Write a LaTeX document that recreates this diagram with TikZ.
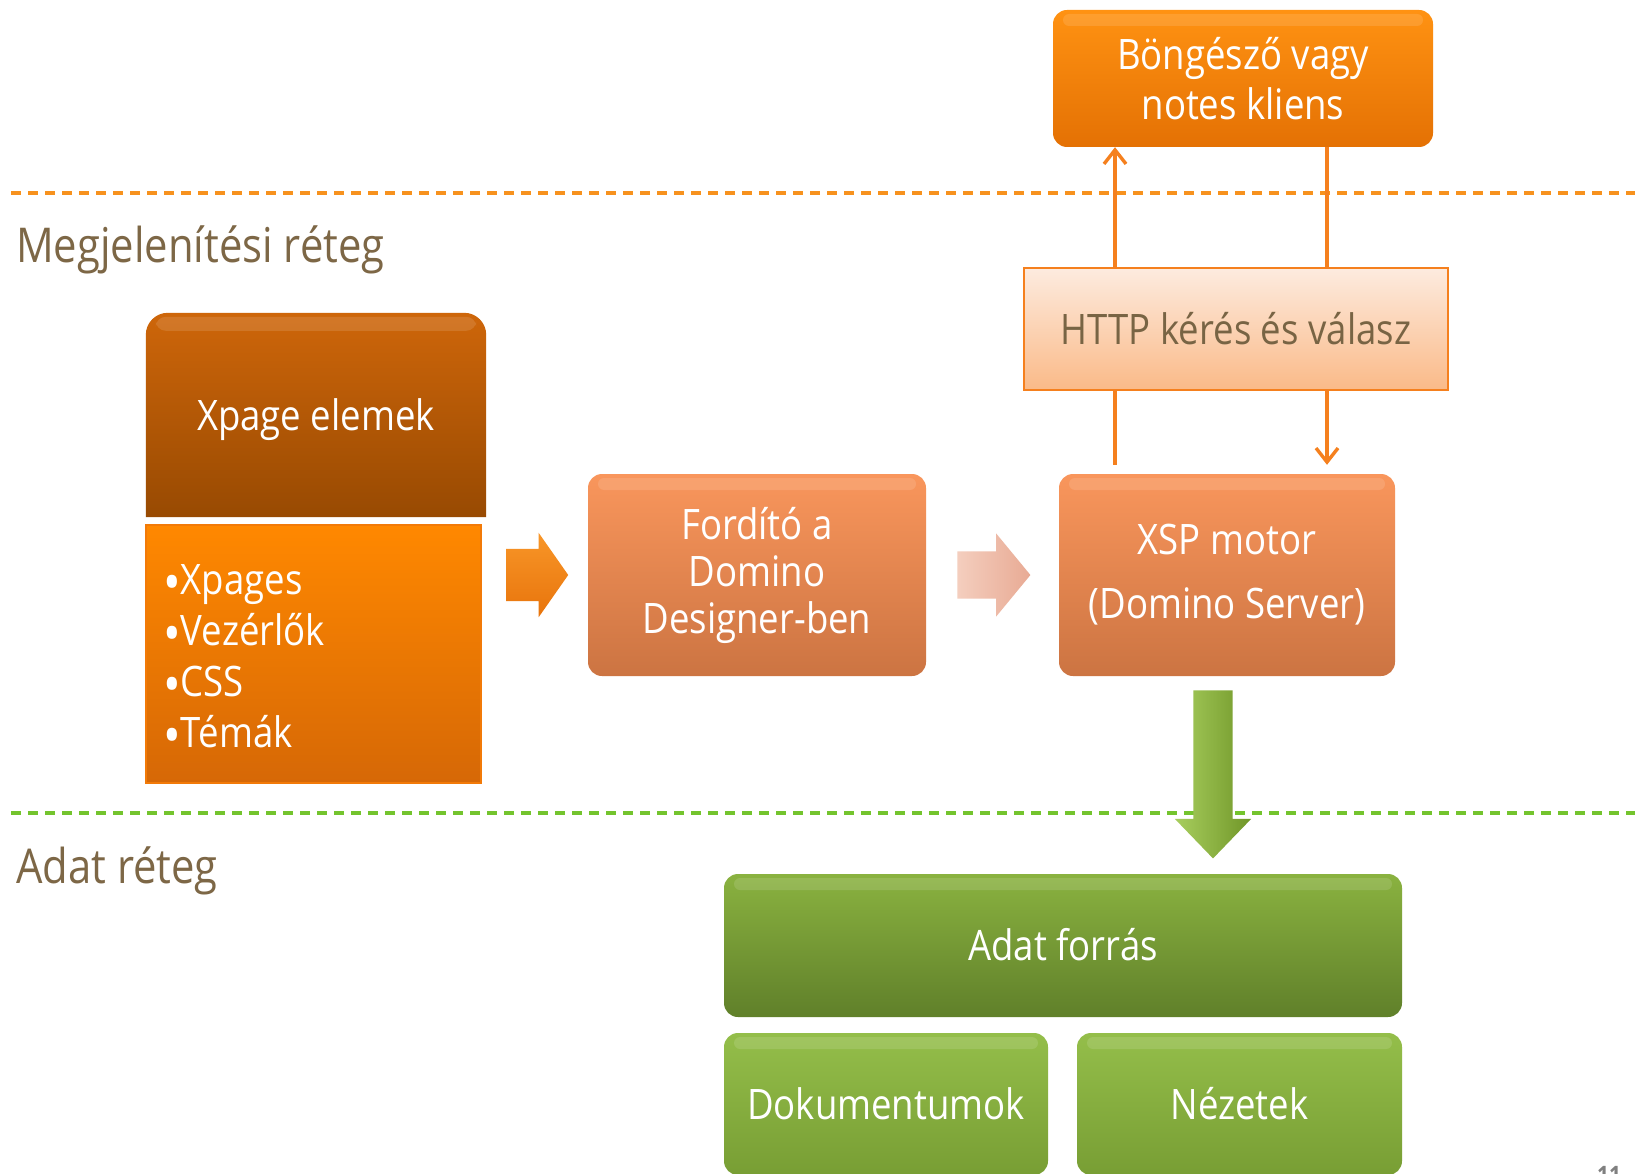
\documentclass[tikz,border=0pt]{standalone}
\usepackage{fontspec}
\setmainfont{Open Sans}[FakeStretch=0.87]
\usetikzlibrary{arrows.meta,shapes.arrows,calc,backgrounds}

\definecolor{labcol}{RGB}{125,103,70}
\definecolor{httptext}{RGB}{120,100,68}
\definecolor{browserTop}{RGB}{255,146,18}
\definecolor{browserBot}{RGB}{228,113,4}
\definecolor{procTop}{RGB}{249,150,92}
\definecolor{procBot}{RGB}{204,116,66}
\definecolor{xheadTop}{RGB}{206,102,10}
\definecolor{xheadBot}{RGB}{152,74,2}
\definecolor{xlistTop}{RGB}{255,136,0}
\definecolor{xlistBot}{RGB}{214,104,6}
\definecolor{xlistLine}{RGB}{242,122,8}
\definecolor{httpTop}{RGB}{253,235,223}
\definecolor{httpBot}{RGB}{250,186,136}
\definecolor{orangeLine}{RGB}{245,128,30}
\definecolor{dashOrange}{RGB}{247,146,30}
\definecolor{greenTop}{RGB}{138,178,64}
\definecolor{greenBot}{RGB}{96,128,42}
\definecolor{green2Top}{RGB}{148,190,74}
\definecolor{green2Bot}{RGB}{120,158,52}
\definecolor{dashGreen}{RGB}{116,196,46}
\definecolor{pageGray}{RGB}{128,128,128}

\newcommand{\bigbul}{\raisebox{-7pt}{\fontsize{54}{51}\selectfont\textbullet}}

\begin{document}
\begin{tikzpicture}[x=1pt,y=-1pt,
  every node/.style={font=\fontsize{42}{50}\selectfont},
  box/.style={rounded corners=14, inner sep=0, align=center, text=white},
  gloss/.style={path picture={\fill[white,opacity=0.12,rounded corners=6]
      ([xshift=10,yshift=-4]path picture bounding box.north west) rectangle
      ([xshift=-10,yshift=-16]path picture bounding box.north east);}},
  browserbox/.style={box, gloss, top color=browserTop, bottom color=browserBot},
  procbox/.style={box, gloss, top color=procTop, bottom color=procBot},
  greenbox/.style={box, gloss, top color=greenTop, bottom color=greenBot},
  greensmall/.style={box, gloss, top color=green2Top, bottom color=green2Bot},
  httpbox/.style={inner sep=0, align=center, text=httptext, draw=orangeLine,
      line width=2.5, top color=httpTop, bottom color=httpBot},
  layerlabel/.style={anchor=base west, inner sep=0, text=labcol,
      font=\fontsize{48}{56}\selectfont},
  layerline/.style={line width=3.2, dash pattern=on 10 off 7},
  conn/.style={draw=orangeLine, line width=3.4},
  barb/.style={-{Straight Barb[length=14,width=22,line width=3.4]}},
  blockarrow/.style={single arrow, inner sep=0, draw=none, anchor=tail}
]
\clip (0,0) rectangle (1635,1174);
\begin{pgfonlayer}{background}
\fill[white] (0,0) rectangle (1635,1174);
\end{pgfonlayer}

% layer separators and labels
\coordinate (dl1) at (11,193);
\coordinate (dr1) at (1640,193);
\coordinate (dl2) at (11,813);
\coordinate (dr2) at (1640,813);
\draw[layerline, draw=dashOrange] (dl1) -- (dr1);
\node[layerlabel] (lab1) at (16,262) {Megjelenítési réteg};
\node[layerlabel] (lab2) at (16,883) {Adat réteg};

% presentation layer boxes
\node[browserbox, minimum width=380, minimum height=137] (browser) at (1243,78.5)
  {Böngésző vagy\\notes kliens};
\node[httpbox, minimum width=424, minimum height=122, text height=30, text depth=0]
  (http) at (1236,329) {HTTP kérés és válasz};
\node[procbox, minimum width=338, minimum height=202, font=\fontsize{42}{47}\selectfont]
  (fordito) at (757,575) {Fordító a\\Domino\\Designer-ben};
\node[procbox, minimum width=336, minimum height=202, font=\fontsize{42}{64}\selectfont]
  (xsp) at (1227,575) {XSP motor\\(Domino Server)};

% Xpage elements
\node[inner sep=0, minimum width=340, minimum height=204, text=white, text height=30, text depth=0]
  (xhead) at (316,415) {Xpage elemek};
\begin{pgfonlayer}{background}
  \shade[top color=xheadTop, bottom color=xheadBot]
    (xhead.south west) [rounded corners=22] -- (xhead.north west) -- (xhead.north east)
    [sharp corners] -- (xhead.south east) -- cycle;
  \fill[white,opacity=0.12,rounded corners=10]
    ([xshift=10,yshift=-4]xhead.north west) rectangle ([xshift=-10,yshift=-18]xhead.north east);
\end{pgfonlayer}
\node[draw=xlistLine, line width=2, top color=xlistTop, bottom color=xlistBot,
  minimum width=335, minimum height=258, inner sep=0] (xlist) at (313.5,654) {};
\node[anchor=north west, inner sep=0, align=left, text=white,
  font=\fontsize{42}{51}\selectfont] (xitems) at (163,564)
  {\bigbul Xpages\\ \bigbul Vezérlők\\ \bigbul CSS\\ \bigbul Témák};

% connectors between browser, http and xsp
\coordinate (lx) at (1115,0);
\coordinate (rx) at (1327,0);
\draw[conn, barb] (http.north -| lx) -- (browser.south -| lx);
\draw[conn] (browser.south -| rx) -- (http.north -| rx);
\draw[conn, shorten <=9] (xsp.north -| lx) -- (http.south -| lx);
\draw[conn, barb, shorten >=9] (http.south -| rx) -- (xsp.north -| rx);

% block arrows
\node[blockarrow, minimum height=62, inner ysep=26, single arrow head extend=16,
  single arrow tip angle=110, top color={rgb,255:red,248;green,150;blue,40},
  bottom color={rgb,255:red,232;green,116;blue,12}]
  (arr1) at ($(xlist.east |- fordito.west)+(24,0)$) {};
\node[blockarrow, minimum height=73, inner ysep=23.5, single arrow head extend=18,
  single arrow tip angle=101, left color={rgb,255:red,244;green,206;blue,190},
  right color={rgb,255:red,232;green,170;blue,148}]
  (arr2) at ($(fordito.east)+(31,0)$) {};

% data layer
\node[greenbox, minimum width=678, minimum height=143, text height=30, text depth=0]
  (adat) at (1063,945.5) {Adat forrás};
\node[greensmall, minimum width=324, minimum height=142, text height=30, text depth=0]
  (dok) at (886,1104) {Dokumentumok};
\node[greensmall, minimum width=325, minimum height=142, text height=30, text depth=0]
  (nez) at (1239.5,1104) {Nézetek};

\draw[layerline, draw=dashGreen] (dl2) -- (dr2);
\node[blockarrow, rotate=-90, minimum height=168, inner ysep=19.5, single arrow head extend=18.5,
  single arrow tip angle=88, left color={rgb,255:red,168;green,206;blue,94},
  right color={rgb,255:red,112;green,150;blue,40}]
  (arr3) at ($(xsp.south)+(-14,14)$) {};

% page number (cut off)
\node[anchor=north west, inner sep=0, text=pageGray, font=\bfseries\fontsize{24}{28}\selectfont]
  (pnum) at (1597,1166) {11};
\end{tikzpicture}
\end{document}
